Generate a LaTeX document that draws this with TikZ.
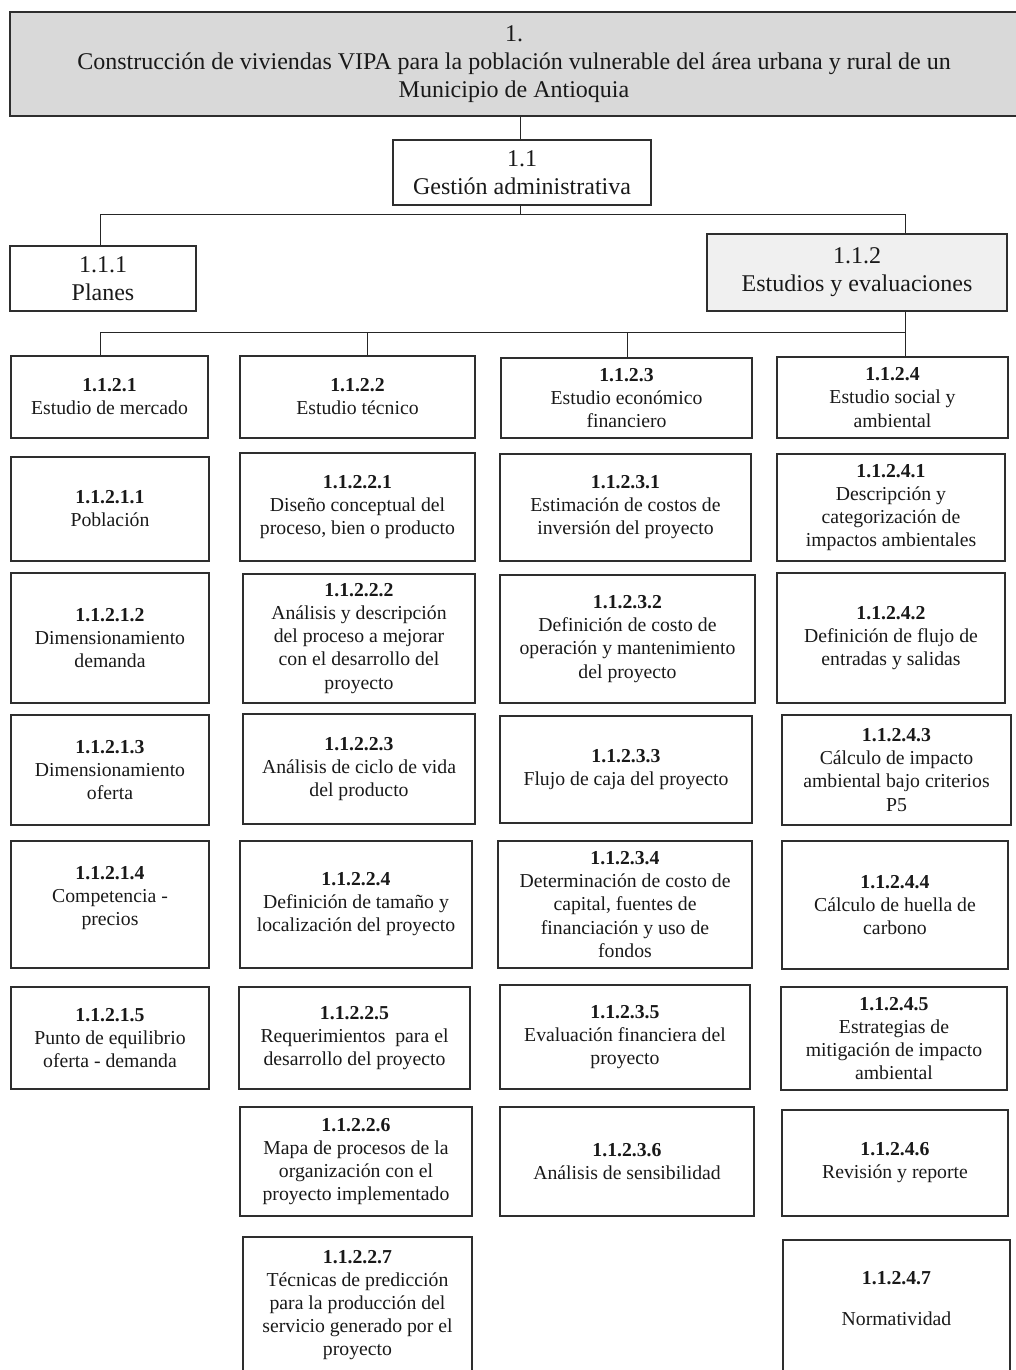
\documentclass[tikz,border=0pt]{standalone}
\usepackage{fontspec}
\setmainfont{Liberation Serif}
\begin{document}
\begin{tikzpicture}[x=0.75pt,y=-0.75pt,
  cell/.style={draw=black!82,line width=0.95pt,inner sep=0pt,align=center,
    text=black!90,font=\fontsize{14.8}{17.3}\selectfont},
  headcell/.style={cell,font=\fontsize{18}{21}\selectfont},
  topfill/.style={fill=black!15},
  midfill/.style={fill=black!6},
  link/.style={draw=black!85,line width=0.75pt}]
\useasboundingbox (0,0) rectangle (1015,1370);
% box from (x1,y1) to (x2,y2) in pixel units, text centred inside
\newcommand\wbsbox[7][]{\node[cell,#1,minimum width={(#5-#3)*0.75pt},minimum height={(#6-#4)*0.75pt}] (#2) at ({(#3+#5)/2},{(#4+#6)/2}) {#7};}

% ---- levels 1 and 2
\wbsbox[headcell,topfill]{top}{10}{12}{1018}{116}{1.\\Construcción de viviendas VIPA para la población vulnerable del área urbana y rural de un\\Municipio de Antioquia}
\wbsbox[headcell]{g11}{393}{140}{651}{205}{1.1\\Gestión administrativa}
\wbsbox[headcell]{p111}{10}{246}{196}{311}{1.1.1\\Planes}
\wbsbox[headcell,midfill]{p112}{707}{234}{1007}{311}{1.1.2\\Estudios y evaluaciones}

% ---- level 3
\wbsbox{c1}{11}{356}{208}{438}{\textbf{1.1.2.1}\\Estudio de mercado}
\wbsbox{c2}{240}{356}{475}{438}{\textbf{1.1.2.2}\\Estudio técnico}
\wbsbox{c3}{501}{358}{752}{438}{\textbf{1.1.2.3}\\Estudio económico\\financiero}
\wbsbox{c4}{777}{357}{1008}{438}{\textbf{1.1.2.4}\\Estudio social y\\ambiental}

% ---- column 1
\wbsbox{a1}{11}{457}{209}{561}{\textbf{1.1.2.1.1}\\Población}
\wbsbox{a2}{11}{573}{209}{703}{\textbf{1.1.2.1.2}\\Dimensionamiento\\demanda}
\wbsbox{a3}{11}{715}{209}{825}{\textbf{1.1.2.1.3}\\Dimensionamiento\\oferta}
\wbsbox{a4}{11}{841}{209}{968}{\textbf{1.1.2.1.4}\\Competencia -\\precios\\[-4pt]}
\wbsbox{a5}{11}{987}{209}{1089}{\textbf{1.1.2.1.5}\\Punto de equilibrio\\oferta - demanda}

% ---- column 2
\wbsbox{b1}{240}{453}{475}{561}{\textbf{1.1.2.2.1}\\Diseño conceptual del\\proceso, bien o producto}
\wbsbox{b2}{243}{574}{475}{703}{\textbf{1.1.2.2.2}\\Análisis y descripción\\del proceso a mejorar\\con el desarrollo del\\proyecto}
\wbsbox{b3}{243}{714}{475}{824}{\textbf{1.1.2.2.3}\\Análisis de ciclo de vida\\del producto}
\wbsbox{b4}{240}{841}{472}{968}{\textbf{1.1.2.2.4}\\Definición de tamaño y\\localización del proyecto}
\wbsbox{b5}{239}{987}{470}{1089}{\textbf{1.1.2.2.5}\\Requerimientos\ \ para el\\desarrollo del proyecto}
\wbsbox{b6}{240}{1107}{472}{1216}{\textbf{1.1.2.2.6}\\Mapa de procesos de la\\organización con el\\proyecto implementado}
\wbsbox{b7}{243}{1237}{472}{1373}{\textbf{1.1.2.2.7}\\Técnicas de predicción\\para la producción del\\servicio generado por el\\proyecto}

% ---- column 3
\wbsbox{d1}{500}{454}{751}{561}{\textbf{1.1.2.3.1}\\Estimación de costos de\\inversión del proyecto}
\wbsbox{d2}{500}{575}{755}{703}{\textbf{1.1.2.3.2}\\Definición de costo de\\operación y mantenimiento\\del proyecto}
\wbsbox{d3}{500}{716}{752}{823}{\textbf{1.1.2.3.3}\\Flujo de caja del proyecto}
\wbsbox{d4}{498}{841}{752}{968}{\textbf{1.1.2.3.4}\\Determinación de costo de\\capital, fuentes de\\financiación y uso de\\fondos}
\wbsbox{d5}{500}{985}{750}{1089}{\textbf{1.1.2.3.5}\\Evaluación financiera del\\proyecto}
\wbsbox{d6}{500}{1107}{754}{1216}{\textbf{1.1.2.3.6}\\Análisis de sensibilidad}

% ---- column 4
\wbsbox{e1}{777}{454}{1005}{561}{\textbf{1.1.2.4.1}\\Descripción y\\categorización de\\impactos ambientales}
\wbsbox{e2}{777}{573}{1005}{703}{\textbf{1.1.2.4.2}\\Definición de flujo de\\entradas y salidas}
\wbsbox{e3}{782}{715}{1011}{825}{\textbf{1.1.2.4.3}\\Cálculo de impacto\\ambiental bajo criterios\\P5}
\wbsbox{e4}{782}{841}{1008}{969}{\textbf{1.1.2.4.4}\\Cálculo de huella de\\carbono}
\wbsbox{e5}{781}{987}{1007}{1090}{\textbf{1.1.2.4.5}\\Estrategias de\\mitigación de impacto\\ambiental}
\wbsbox{e6}{782}{1110}{1008}{1216}{\textbf{1.1.2.4.6}\\Revisión y reporte}
\wbsbox{e7}{783}{1240}{1010}{1373}{\textbf{1.1.2.4.7}\\[13pt]Normatividad\\[-5.3pt]}

% ---- connectors
\coordinate (busA) at (520,214);
\coordinate (tapA1) at (100,214);
\coordinate (tapA2) at (905,214);
\coordinate (busB) at (905,332);
\coordinate (tapB1) at (100,332);
\coordinate (tapB2) at (367,332);
\coordinate (tapB3) at (627,332);

\draw[link] (busA |- top.south) -- (busA |- g11.north);
\draw[link] (busA |- g11.south) -- (busA);
\draw[link] (tapA1 |- p111.north) -- (tapA1) -- (tapA2) -- (tapA2 |- p112.north);
\draw[link] (busB |- p112.south) -- (busB) -- (tapB1) -- (tapB1 |- c1.north);
\draw[link] (tapB2) -- (tapB2 |- c2.north);
\draw[link] (tapB3) -- (tapB3 |- c3.north);
\draw[link] (busB) -- (busB |- c4.north);
\end{tikzpicture}
\end{document}
